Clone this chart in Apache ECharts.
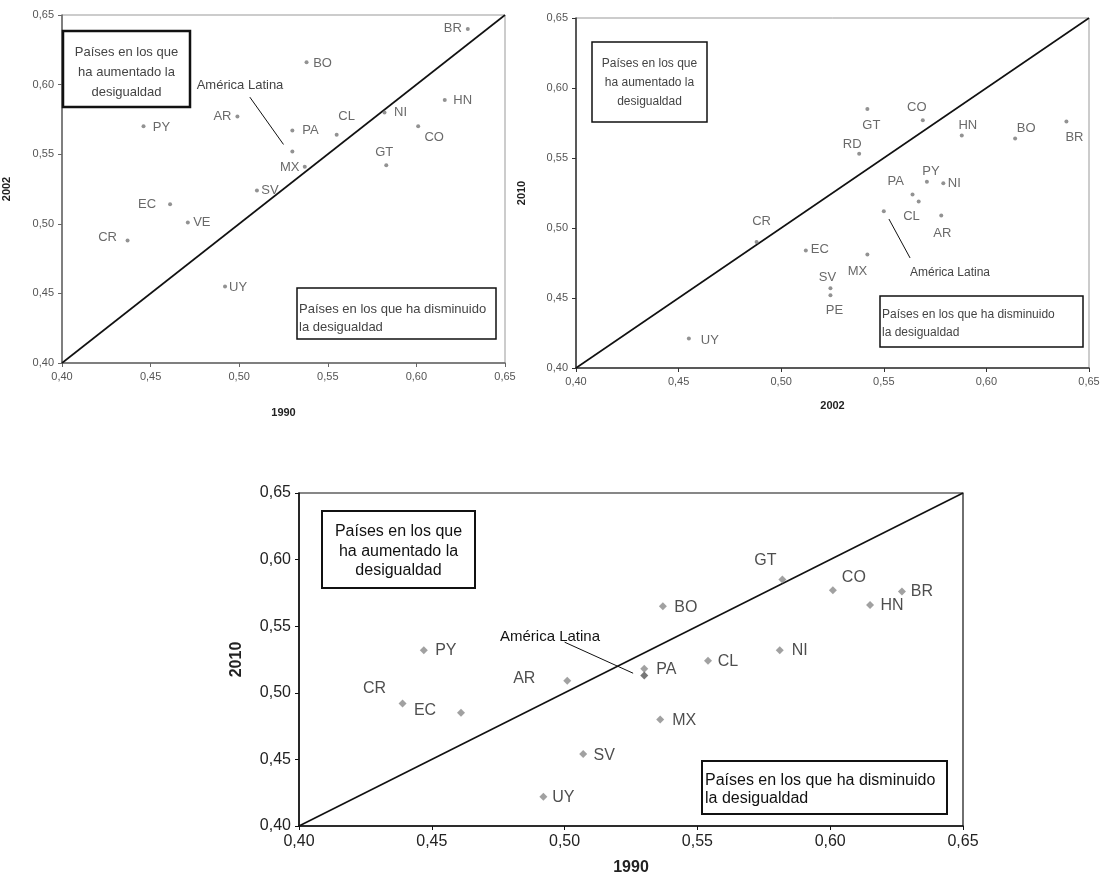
<!DOCTYPE html>
<html><head><meta charset="utf-8">
<script src="https://cdn.jsdelivr.net/npm/echarts@6/dist/echarts.min.js"></script>
<style>html,body{margin:0;padding:0;background:#fff}#c{width:1106px;height:877px}</style>
</head><body><div id="c"></div>
<script>
// ---------- DATA ----------
const ticks = [0.40, 0.45, 0.50, 0.55, 0.60, 0.65];

// Panel A: 1990 (x) vs 2002 (y)
const paisesA = ['BR','BO','HN','NI','CO','CL','PA','MX','GT','SV','AR','PY','EC','VE','CR','UY'];
const giniA1990 = [0.629,0.538,0.616,0.582,0.601,0.555,0.530,0.537,0.583,0.510,0.499,0.446,0.461,0.471,0.437,0.492];
const giniA2002 = [0.640,0.616,0.589,0.580,0.570,0.564,0.567,0.541,0.542,0.524,0.577,0.570,0.514,0.501,0.488,0.455];
const amLatA = [0.530, 0.552];

// Panel B: 2002 (x) vs 2010 (y)
const paisesB = ['GT','CO','HN','BO','BR','RD','PY','NI','CL','PA','AR','MX','CR','EC','SV','PE','UY'];
const giniB2002 = [0.542,0.569,0.588,0.614,0.639,0.538,0.571,0.579,0.564,0.567,0.578,0.542,0.488,0.512,0.524,0.524,0.455];
const giniB2010 = [0.585,0.577,0.566,0.564,0.576,0.553,0.533,0.532,0.524,0.519,0.509,0.481,0.490,0.484,0.457,0.452,0.421];
const amLatB = [0.550, 0.512];

// Panel C: 1990 (x) vs 2010 (y)
const paisesC = ['GT','CO','BR','HN','BO','NI','CL','PA','MX','SV','UY','AR','PY','CR','EC'];
const giniC1990 = [0.582,0.601,0.627,0.615,0.537,0.581,0.554,0.530,0.536,0.507,0.492,0.501,0.447,0.439,0.461];
const giniC2010 = [0.585,0.577,0.576,0.566,0.565,0.532,0.524,0.518,0.480,0.454,0.422,0.509,0.532,0.492,0.485];
const amLatC = [0.530, 0.513];

const txtAumento = 'Países en los que\nha aumentado la\ndesigualdad';
const txtDisminuye = 'Países en los que ha disminuido\nla desigualdad';
const txtAL = 'América Latina';

// ---------- LABEL PLACEMENT (pixel offsets) ----------
const offA = {BR:[-15,0],BO:[16,1],HN:[18,1],NI:[16,0],CO:[16,11],CL:[10,-18],PA:[18,0],MX:[-15,1],
  GT:[-2,-13],SV:[13,0],AR:[-15,0],PY:[18,1],EC:[-23,0],VE:[14,0],CR:[-20,-3],UY:[13,1]};
const offB = {GT:[4,16],CO:[-6,-13],HN:[6,-10],BO:[11,-10],BR:[8,16],RD:[-7,-9],PY:[4,-10],NI:[11,0],
  CL:[-1,22],PA:[-23,-20],AR:[1,18],MX:[-10,17],CR:[5,-21],EC:[14,-1],SV:[-3,-11],PE:[4,15],UY:[21,2]};
const offC = {GT:[-17,-19],CO:[21,-13],BR:[20,0],HN:[22,1],BO:[23,1],NI:[20,0],CL:[20,1],PA:[22,1],
  MX:[24,1],SV:[21,2],UY:[20,1],AR:[-43,-2],PY:[22,0],CR:[-28,-15],EC:[-36,-2]};

const FONT = 'Liberation Sans, Arial, sans-serif';
const fmt = v => v.toFixed(2).replace('.', ',');
const lo = ticks[0], hi = ticks[ticks.length - 1], step = ticks[1] - ticks[0];

function pts(names, xs, ys, offs) {
  return names.map((n, i) => ({
    name: n, value: [xs[i], ys[i]],
    label: { offset: offs[n] || [0,0] }
  }));
}

function xAx(g, name, gap, fs, col, lineCol) {
  return { type:'value', gridIndex:g, min:lo, max:hi, interval:step, name, nameLocation:'middle', nameGap:gap,
    nameTextStyle:{fontFamily:FONT, fontWeight:'bold', fontSize:fs, color:'#222'},
    axisLine:{show:true, onZero:false, lineStyle:{color:lineCol, width:1.5}},
    axisTick:{show:true, inside:false, length:4, lineStyle:{color:lineCol}},
    axisLabel:{formatter:fmt, fontFamily:FONT, fontSize:fs, color:col, margin:8},
    splitLine:{show:false} };
}
function yAx(g, name, gap, fs, col, lineCol) {
  return { type:'value', gridIndex:g, min:lo, max:hi, interval:step, name, nameLocation:'middle', nameGap:gap, nameRotate:90,
    nameTextStyle:{fontFamily:FONT, fontWeight:'bold', fontSize:fs, color:'#222'},
    axisLine:{show:true, onZero:false, lineStyle:{color:lineCol, width:1.5}},
    axisTick:{show:true, inside:false, length:4, lineStyle:{color:lineCol}},
    axisLabel:{formatter:fmt, fontFamily:FONT, fontSize:fs, color:col, margin:8},
    splitLine:{show:false} };
}

function panelSeries(idx, data, al, arrow, sym, symSize, symCol, alCol, labFs, labCol) {
  return [
    { type:'line', xAxisIndex:idx, yAxisIndex:idx, data:[[lo,lo],[hi,hi]], symbol:'none',
      lineStyle:{color:'#111', width:1.6}, silent:true, z:2 },
    { type:'scatter', xAxisIndex:idx, yAxisIndex:idx, data, symbol:sym, symbolSize:symSize,
      itemStyle:{color:symCol}, z:4,
      label:{show:true, position:'inside', formatter:p=>p.name, fontFamily:FONT, fontSize:labFs, color:labCol,
        align:'center', verticalAlign:'middle'} },
    { type:'scatter', xAxisIndex:idx, yAxisIndex:idx, data:[al], symbol:sym, symbolSize:symSize,
      itemStyle:{color:alCol}, z:4,
      markLine:{ silent:true, symbol:['none','arrow'], symbolSize:[0,8],
        lineStyle:{color:'#111', width:1, type:'solid'}, label:{show:false},
        data:[[{coord:arrow[0]},{coord:arrow[1]}]] } }
  ];
}

// arrow endpoints (annotation) in data space
const arrowA = [[0.506,0.591],[0.525,0.557]];
const arrowB = [[0.5628,0.4786],[0.5525,0.5064]];
const arrowC = [[0.500,0.538],[0.5258,0.5147]];

function box(x, y, w, h, lw, text, tx, ty, align, fs, lh, col) {
  return [
    { type:'rect', shape:{x, y, width:w, height:h}, style:{fill:'#fff', stroke:'#111', lineWidth:lw}, z:10 },
    { type:'text', x:tx, y:ty, style:{text, font:`${fs}px ${FONT}`, fill:col, align, verticalAlign:'top', lineHeight:lh}, z:11 }
  ];
}

const option = {
  animation:false,
  backgroundColor:'#fff',
  grid:[
    {left:62, top:15, width:443, height:348, show:true, borderColor:'#999', borderWidth:1},
    {left:576, top:18, width:513, height:350, show:true, borderColor:'#999', borderWidth:1},
    {left:299, top:493, width:664, height:340, show:true, borderColor:'#111', borderWidth:1.2}
  ],
  xAxis:[ xAx(0,'1990',44,11,'#555','#666'), xAx(1,'2002',32,11,'#555','#333'), xAx(2,'1990',34,16,'#222','#111') ],
  yAxis:[ yAx(0,'2002',50,11,'#555','#666'), yAx(1,'2010',49,11,'#555','#333'), yAx(2,'2010',54,16,'#222','#111') ],
  series:[
    ...panelSeries(0, pts(paisesA, giniA1990, giniA2002, offA), amLatA, arrowA, 'circle', 4, '#777', '#777', 13, '#444'),
    ...panelSeries(1, pts(paisesB, giniB2002, giniB2010, offB), amLatB, arrowB, 'circle', 4, '#777', '#777', 13, '#444'),
    ...panelSeries(2, pts(paisesC, giniC1990, giniC2010, offC), amLatC, arrowC, 'diamond', 8, '#8a8a8a', '#555', 16, '#222')
  ],
  graphic:[
    ...box(63,31,127,76,2.5, txtAumento, 126.5, 42, 'center', 13, 20, '#444'),
    ...box(297,288,199,51,1.5, txtDisminuye, 299, 300, 'left', 13, 18, '#444'),
    ...box(592,42,115,80,1.5, txtAumento, 649.5, 54, 'center', 12, 19, '#444'),
    ...box(880,296,203,51,1.5, txtDisminuye, 882, 306, 'left', 12, 18, '#444'),
    ...box(322,511,153,77,2, txtAumento, 398.5, 522, 'center', 16, 19.5, '#111'),
    ...box(702,761,245,53,2, txtDisminuye, 705, 771, 'left', 16, 18.5, '#111'),
    { type:'text', x:240, y:85, style:{text:txtAL, font:`13px ${FONT}`, fill:'#444', align:'center', verticalAlign:'middle'}, z:11 },
    { type:'text', x:950, y:273, style:{text:txtAL, font:`12px ${FONT}`, fill:'#444', align:'center', verticalAlign:'middle'}, z:11 },
    { type:'text', x:550, y:637, style:{text:txtAL, font:`15px ${FONT}`, fill:'#111', align:'center', verticalAlign:'middle'}, z:11 }
  ]
};

const chart = echarts.init(document.getElementById('c'), null, {renderer:'canvas'});
chart.setOption(option);
</script>
</body></html>
